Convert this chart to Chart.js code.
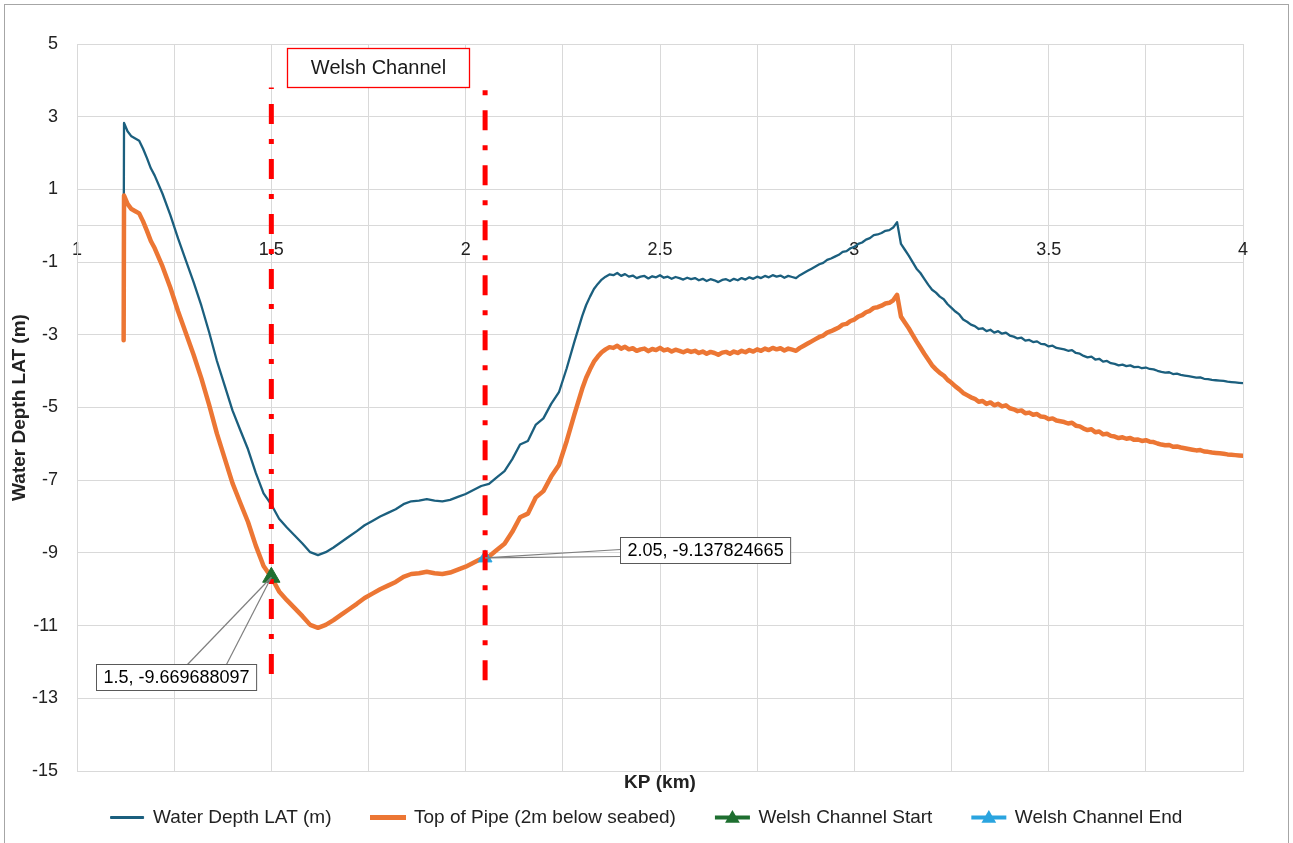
<!DOCTYPE html>
<html>
<head>
<meta charset="utf-8">
<title>Welsh Channel - Water Depth along KP</title>
<script src="https://cdn.jsdelivr.net/npm/chart.js@4.4.1/dist/chart.umd.min.js"></script>
<style>
  html, body { margin: 0; padding: 0; background: #fff; }
  #wrap { position: relative; width: 1293px; height: 843px; }
</style>
</head>
<body>
<div id="wrap"><canvas id="chart"></canvas></div>
<script>
// --- Data ---
const kp = [
  1.120, 1.121, 1.13, 1.14, 1.15, 1.16, 1.17, 1.18, 1.19, 1.20,
  1.22, 1.24, 1.26, 1.28, 1.30, 1.32, 1.34, 1.36, 1.38, 1.40,
  1.42, 1.44, 1.46, 1.48, 1.50, 1.52, 1.54, 1.56, 1.58, 1.60,
  1.62, 1.64, 1.66, 1.68, 1.70, 1.72, 1.74, 1.76, 1.78, 1.80,
  1.82, 1.84, 1.86, 1.88, 1.90, 1.92, 1.94, 1.96, 1.98, 2.00,
  2.02, 2.04, 2.06, 2.08, 2.10, 2.12, 2.14, 2.16, 2.18, 2.20,
  2.22, 2.24, 2.26, 2.28,
  2.30, 2.31, 2.32, 2.33, 2.34, 2.35, 2.36, 2.37, 2.38, 2.39,
  2.40, 2.41, 2.42, 2.43, 2.44, 2.45, 2.46, 2.47, 2.48, 2.49,
  2.50, 2.51, 2.52, 2.53, 2.54, 2.55, 2.56, 2.57, 2.58, 2.59,
  2.60, 2.61, 2.62, 2.63, 2.64, 2.65, 2.66, 2.67, 2.68, 2.69,
  2.70, 2.71, 2.72, 2.73, 2.74, 2.75, 2.76, 2.77, 2.78, 2.79,
  2.80, 2.81, 2.82, 2.83, 2.84, 2.85, 2.86, 2.87, 2.88, 2.89,
  2.90, 2.91, 2.92, 2.93, 2.94, 2.95, 2.96, 2.97, 2.98, 2.99,
  3.00, 3.01, 3.02, 3.03, 3.04, 3.05, 3.06, 3.07, 3.08, 3.09,
  3.10, 3.11, 3.12, 3.13, 3.14, 3.15, 3.16, 3.17, 3.18, 3.19,
  3.20, 3.21, 3.22, 3.23, 3.24, 3.25, 3.26, 3.27, 3.28, 3.29,
  3.30, 3.31, 3.32, 3.33, 3.34, 3.35, 3.36, 3.37, 3.38, 3.39,
  3.40, 3.41, 3.42, 3.43, 3.44, 3.45, 3.46, 3.47, 3.48, 3.49,
  3.50, 3.51, 3.52, 3.53, 3.54, 3.55, 3.56, 3.57, 3.58, 3.59,
  3.60, 3.61, 3.62, 3.63, 3.64, 3.65, 3.66, 3.67, 3.68, 3.69,
  3.70, 3.71, 3.72, 3.73, 3.74, 3.75, 3.76, 3.77, 3.78, 3.79,
  3.80, 3.81, 3.82, 3.83, 3.84, 3.85, 3.86, 3.87, 3.88, 3.89,
  3.90, 3.91, 3.92, 3.93, 3.94, 3.95, 3.96, 3.97, 3.98, 3.99,
  4.00
];

const waterDepth = [
  -1.15, 2.83, 2.60, 2.46, 2.40, 2.34, 2.12, 1.86, 1.58, 1.38,
  0.88, 0.30, -0.35, -0.95, -1.55, -2.20, -2.93, -3.72, -4.40, -5.08,
  -5.62, -6.15, -6.80, -7.36, -7.67, -8.06, -8.30, -8.52, -8.74, -8.98,
  -9.06, -8.98, -8.85, -8.70, -8.55, -8.40, -8.24, -8.12, -8.00, -7.90,
  -7.80, -7.66, -7.58, -7.56, -7.52, -7.56, -7.58, -7.54, -7.46, -7.38,
  -7.27, -7.16, -7.10, -6.92, -6.75, -6.42, -6.02, -5.92, -5.48, -5.30,
  -4.90, -4.58, -3.92, -3.18,
  -2.48, -2.18, -1.95, -1.74, -1.60, -1.48, -1.40, -1.34, -1.36, -1.30,
  -1.38, -1.33, -1.40, -1.37, -1.44, -1.40, -1.38, -1.45, -1.39, -1.42,
  -1.36, -1.43, -1.40, -1.46, -1.41, -1.44, -1.48, -1.43, -1.47, -1.44,
  -1.50, -1.46, -1.52, -1.47, -1.50, -1.55, -1.49, -1.47, -1.52, -1.46,
  -1.50, -1.44, -1.48, -1.42, -1.46, -1.40, -1.44, -1.38, -1.42, -1.36,
  -1.40, -1.37, -1.43, -1.38, -1.41, -1.44, -1.36, -1.30, -1.24, -1.18,
  -1.12, -1.06, -1.02, -0.94, -0.90, -0.85, -0.80, -0.72, -0.70, -0.62,
  -0.58, -0.50, -0.46, -0.38, -0.34, -0.26, -0.24, -0.20, -0.14, -0.12,
  -0.05, 0.10, -0.50, -0.66, -0.82, -1.00, -1.18, -1.30, -1.46, -1.62,
  -1.76, -1.84, -1.95, -2.02, -2.16, -2.26, -2.36, -2.44, -2.58, -2.64,
  -2.72, -2.76, -2.84, -2.82, -2.90, -2.86, -2.94, -2.90, -2.97, -2.94,
  -3.02, -3.05, -3.10, -3.08, -3.16, -3.14, -3.20, -3.18, -3.25, -3.26,
  -3.32, -3.30, -3.36, -3.38, -3.40, -3.44, -3.42, -3.50, -3.52, -3.58,
  -3.62, -3.60, -3.68, -3.66, -3.74, -3.72, -3.78, -3.80, -3.84, -3.82,
  -3.86, -3.84, -3.89, -3.88, -3.92, -3.90, -3.94, -3.95, -3.99, -4.02,
  -4.04, -4.03, -4.08, -4.07, -4.10, -4.12, -4.14, -4.16, -4.18, -4.17,
  -4.21, -4.22, -4.24, -4.25, -4.26, -4.27, -4.29, -4.30, -4.31, -4.32,
  -4.33
];

const topOfPipe = [
  -3.15, 0.83, 0.60, 0.46, 0.40, 0.34, 0.12, -0.14, -0.42, -0.62,
  -1.12, -1.70, -2.35, -2.95, -3.55, -4.20, -4.93, -5.72, -6.40, -7.08,
  -7.62, -8.15, -8.80, -9.36, -9.67, -10.06, -10.30, -10.52, -10.74, -10.98,
  -11.06, -10.98, -10.85, -10.70, -10.55, -10.40, -10.24, -10.12, -10.00, -9.90,
  -9.80, -9.66, -9.58, -9.56, -9.52, -9.56, -9.58, -9.54, -9.46, -9.38,
  -9.27, -9.16, -9.10, -8.92, -8.75, -8.42, -8.02, -7.92, -7.48, -7.30,
  -6.90, -6.58, -5.92, -5.18,
  -4.48, -4.18, -3.95, -3.74, -3.60, -3.48, -3.40, -3.34, -3.36, -3.30,
  -3.38, -3.33, -3.40, -3.37, -3.44, -3.40, -3.38, -3.45, -3.39, -3.42,
  -3.36, -3.43, -3.40, -3.46, -3.41, -3.44, -3.48, -3.43, -3.47, -3.44,
  -3.50, -3.46, -3.52, -3.47, -3.50, -3.55, -3.49, -3.47, -3.52, -3.46,
  -3.50, -3.44, -3.48, -3.42, -3.46, -3.40, -3.44, -3.38, -3.42, -3.36,
  -3.40, -3.37, -3.43, -3.38, -3.41, -3.44, -3.36, -3.30, -3.24, -3.18,
  -3.12, -3.06, -3.02, -2.94, -2.90, -2.85, -2.80, -2.72, -2.70, -2.62,
  -2.58, -2.50, -2.46, -2.38, -2.34, -2.26, -2.24, -2.20, -2.14, -2.12,
  -2.05, -1.90, -2.50, -2.66, -2.82, -3.00, -3.18, -3.35, -3.52, -3.68,
  -3.84, -3.95, -4.05, -4.12, -4.24, -4.32, -4.42, -4.50, -4.60, -4.66,
  -4.72, -4.76, -4.84, -4.82, -4.90, -4.86, -4.94, -4.90, -4.97, -4.94,
  -5.02, -5.05, -5.10, -5.08, -5.16, -5.14, -5.20, -5.18, -5.25, -5.26,
  -5.32, -5.30, -5.36, -5.38, -5.40, -5.44, -5.42, -5.50, -5.52, -5.58,
  -5.62, -5.60, -5.68, -5.66, -5.74, -5.72, -5.78, -5.80, -5.84, -5.82,
  -5.86, -5.84, -5.89, -5.88, -5.92, -5.90, -5.94, -5.95, -5.99, -6.02,
  -6.04, -6.03, -6.08, -6.07, -6.10, -6.12, -6.14, -6.16, -6.18, -6.17,
  -6.21, -6.22, -6.24, -6.25, -6.26, -6.27, -6.29, -6.30, -6.31, -6.32,
  -6.33
];

// Welsh Channel start / end markers (KP, level)
const channelStart = [1.5, -9.669688097];
const channelEnd = [2.05, -9.137824665];

// Red dash-dot boundary lines
const boundaryKp = [1.5, 2.05];
const boundaryTop = [3.8, 3.73];
const boundaryBottom = [-12.55, -12.72];

const seriesNames = ['Water Depth LAT (m)', 'Top of Pipe (2m below seabed)', 'Welsh Channel Start', 'Welsh Channel End'];
const seriesColors = ['#1b5f7e', '#ec7634', '#1e6f30', '#2aa4df'];

// Axis ranges
const yMin = -15, yMax = 5, yStep = 2;
const xMin = 1, xMax = 4, xGridStep = 0.25, xLabelStep = 0.5;

const FONT = "'Liberation Sans', Arial, sans-serif";
const TEXT = '#222';
const GRID = '#d9d9d9';

const xy = (xs, ys) => xs.map((x, i) => ({ x, y: ys[i] }));

// --- Extras: frame, channel box, callouts, legend triangles ---
function triangle(ctx, cx, cy, r) {
    ctx.beginPath();
    for (let k = 0; k < 3; k++) {
        const a = -Math.PI / 2 + k * 2 * Math.PI / 3;
        const px = cx + r * Math.cos(a), py = cy + r * Math.sin(a);
        if (k === 0) ctx.moveTo(px, py); else ctx.lineTo(px, py);
    }
    ctx.closePath();
    ctx.fill();
}

function callout(ctx, px, py, text, dx, dy, leaders) {
    ctx.font = '18px ' + FONT;
    const w = ctx.measureText(text).width + 14;
    const h = 26;
    const bx = Math.round(px + dx) + 0.5, by = Math.round(py + dy) + 0.5;
    ctx.strokeStyle = '#7f7f7f';
    ctx.lineWidth = 1.2;
    leaders.forEach(([lx, ly]) => {
        ctx.beginPath();
        ctx.moveTo(bx + lx, by + ly);
        ctx.lineTo(px, py);
        ctx.stroke();
    });
    ctx.fillStyle = '#fff';
    ctx.fillRect(bx, by, w, h);
    ctx.strokeStyle = '#595959';
    ctx.lineWidth = 1;
    ctx.strokeRect(bx, by, w, h);
    ctx.fillStyle = '#000';
    ctx.textAlign = 'left';
    ctx.textBaseline = 'middle';
    ctx.fillText(text, bx + 7, by + h / 2 + 1);
}

const extras = {
    id: 'extras',
    beforeDraw(chart) {
        const ctx = chart.ctx;
        ctx.save();
        ctx.fillStyle = '#fff';
        ctx.fillRect(0, 0, chart.width, chart.height);
        ctx.restore();
    },
    afterLayout(chart) {
        // pull the legend row up under the axis title (keep bottom so nothing is clipped)
        const lg = chart.legend;
        if (lg) { lg.top -= 26; }
    },
    afterDraw(chart) {
        const { ctx, chartArea, scales: { x, y } } = chart;
        ctx.save();

        // outer frame
        ctx.strokeStyle = '#a6a6a6';
        ctx.lineWidth = 1;
        ctx.strokeRect(4.5, 4.5, chart.width - 9, chart.height + 20);

        // "Welsh Channel" box
        const bx = chartArea.left + 210.5, by = chartArea.top + 4.5;
        ctx.fillStyle = '#fff';
        ctx.fillRect(bx, by, 182, 39);
        ctx.strokeStyle = '#ff0000';
        ctx.lineWidth = 1.3;
        ctx.strokeRect(bx, by, 182, 39);
        ctx.fillStyle = '#1a1a1a';
        ctx.font = '20px ' + FONT;
        ctx.textAlign = 'center';
        ctx.textBaseline = 'middle';
        ctx.fillText('Welsh Channel', bx + 91, by + 20);

        // data callouts
        callout(ctx, x.getPixelForValue(channelStart[0]), y.getPixelForValue(channelStart[1]),
            channelStart[0] + ', ' + channelStart[1], -175, 87, [[91, 0], [130, 0]]);
        callout(ctx, x.getPixelForValue(channelEnd[0]), y.getPixelForValue(channelEnd[1]),
            channelEnd[0] + ', ' + channelEnd[1], 135, -20.5, [[0, 12], [0, 19]]);

        // triangles on the marker legend swatches
        const lg = chart.legend;
        const boxW = lg.options.labels.boxWidth;
        [2, 3].forEach(i => {
            const hb = lg.legendHitBoxes[i];
            if (!hb) return;
            ctx.fillStyle = seriesColors[i];
            triangle(ctx, hb.left + boxW / 2, hb.top + hb.height / 2 + 1, 8.5);
        });
        ctx.restore();
    }
};

new Chart(document.getElementById('chart'), {
    type: 'line',
    data: {
        datasets: [
            {
                label: seriesNames[0],
                data: xy(kp, waterDepth),
                borderColor: seriesColors[0],
                borderWidth: 2.3,
                pointRadius: 0,
                tension: 0,
                borderJoinStyle: 'round',
                order: 4,
                xAxisID: 'x', yAxisID: 'y'
            },
            {
                label: seriesNames[1],
                data: xy(kp, topOfPipe),
                borderColor: seriesColors[1],
                borderWidth: 4.5,
                pointRadius: 0,
                tension: 0,
                borderJoinStyle: 'round',
                borderCapStyle: 'round',
                order: 3,
                xAxisID: 'x', yAxisID: 'y'
            },
            {
                label: seriesNames[2],
                data: [{ x: channelStart[0], y: channelStart[1] }],
                showLine: false,
                pointStyle: 'triangle',
                pointRadius: 10,
                backgroundColor: seriesColors[2],
                borderColor: seriesColors[2],
                borderWidth: 1,
                order: 2,
                xAxisID: 'x', yAxisID: 'y'
            },
            {
                label: seriesNames[3],
                data: [{ x: channelEnd[0], y: channelEnd[1] }],
                showLine: false,
                pointStyle: 'triangle',
                pointRadius: 8,
                backgroundColor: seriesColors[3],
                borderColor: seriesColors[3],
                borderWidth: 1,
                order: 2,
                xAxisID: 'x', yAxisID: 'y'
            },
            {
                label: 'start line',
                data: [{ x: boundaryKp[0], y: boundaryTop[0] }, { x: boundaryKp[0], y: boundaryBottom[0] }],
                borderColor: '#ff0000',
                borderWidth: 5,
                borderDash: [20, 15, 5, 15],
                borderDashOffset: 38.5,
                pointRadius: 0,
                order: 0,
                xAxisID: 'x', yAxisID: 'y'
            },
            {
                label: 'end line',
                data: [{ x: boundaryKp[1], y: boundaryTop[1] }, { x: boundaryKp[1], y: boundaryBottom[1] }],
                borderColor: '#ff0000',
                borderWidth: 5,
                borderDash: [20, 15, 5, 15],
                borderDashOffset: 35,
                pointRadius: 0,
                order: 0,
                xAxisID: 'x', yAxisID: 'y'
            }
        ]
    },
    options: {
        responsive: true,
        maintainAspectRatio: false,
        animation: false,
        events: [],
        devicePixelRatio: 1,
        layout: { padding: { top: 44, left: 0, right: 0, bottom: 0 } },
        scales: {
            x: {
                type: 'linear',
                position: 'bottom',
                min: xMin, max: xMax,
                ticks: { display: false, stepSize: xGridStep },
                grid: { color: GRID, lineWidth: 1, drawTicks: false },
                border: { display: true, color: GRID },
                title: {
                    display: true, text: 'KP (km)', color: TEXT,
                    font: { family: FONT, size: 19, weight: 'bold' },
                    padding: { top: 0, bottom: 0 }
                },
                afterFit(scale) { scale.height = 23; }
            },
            x2: {
                type: 'linear',
                position: { y: 0 },
                min: xMin, max: xMax,
                ticks: {
                    stepSize: xLabelStep, padding: 13, color: TEXT,
                    font: { family: FONT, size: 18 }, maxRotation: 0, autoSkip: false,
                    callback: v => String(Math.round(v * 100) / 100)
                },
                grid: { display: false, drawTicks: false },
                border: { display: true, color: GRID, width: 1 }
            },
            y: {
                type: 'linear',
                position: 'left',
                min: yMin, max: yMax,
                ticks: { stepSize: yStep, padding: 19, color: TEXT, font: { family: FONT, size: 18 } },
                grid: { color: GRID, lineWidth: 1, drawTicks: false },
                border: { display: true, color: GRID },
                title: {
                    display: true, text: 'Water Depth LAT (m)', color: TEXT,
                    font: { family: FONT, size: 19, weight: 'bold' },
                    padding: { top: 8, bottom: 0 }
                },
                afterFit(scale) { scale.width = 77; }
            },
            yR: {
                type: 'linear',
                position: 'right',
                min: yMin, max: yMax,
                ticks: { display: false },
                grid: { display: false, drawTicks: false },
                border: { display: false },
                afterFit(scale) { scale.width = 50; }
            }
        },
        plugins: {
            tooltip: { enabled: false },
            legend: {
                position: 'bottom',
                maxHeight: 49,
                labels: {
                    font: { family: FONT, size: 19 },
                    color: TEXT,
                    boxWidth: 33,
                    boxHeight: 2,
                    padding: 40,
                    generateLabels: () => seriesNames.map((text, i) => ({
                        text,
                        fillStyle: seriesColors[i],
                        strokeStyle: seriesColors[i],
                        lineWidth: [1, 3, 2, 2][i],
                        hidden: false,
                        datasetIndex: i,
                        fontColor: TEXT
                    }))
                }
            }
        }
    },
    plugins: [extras]
});
</script>
</body>
</html>
